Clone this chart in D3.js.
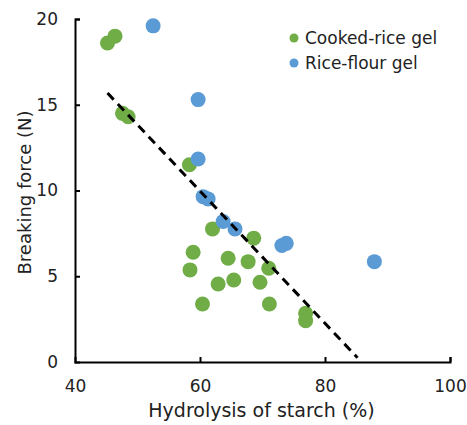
<!DOCTYPE html>
<html lang="en">
<head>
<meta charset="utf-8">
<title>Breaking force vs hydrolysis</title>
<style>
  body { margin: 0; background: #fff; }
  text { font-family: "DejaVu Sans", Verdana, sans-serif; fill: #222; }
  .axis path, .axis line { stroke: #000; stroke-width: 2; }
  .axis text { font-size: 17px; }
</style>
<script src="https://d3js.org/d3.v7.min.js"></script>
</head>
<body>
<svg width="467" height="425"></svg>
<script>
// data
var cookedX = [45.2, 46.4, 47.6, 48.5, 58.3, 58.9, 58.4, 60.4, 62.0, 62.9, 64.5, 65.4, 67.7, 68.6, 69.6, 71.0, 71.1, 76.9, 76.9];
var cookedY = [18.6, 19.0, 14.5, 14.3, 11.5, 6.4, 5.37, 3.38, 7.76, 4.55, 6.05, 4.78, 5.85, 7.22, 4.65, 5.47, 3.38, 2.84, 2.41];
var flourX = [52.5, 59.7, 59.7, 60.5, 61.3, 63.7, 65.6, 73.1, 73.8, 87.9];
var flourY = [19.6, 15.3, 11.84, 9.64, 9.51, 8.19, 7.76, 6.79, 6.92, 5.85];
var trendX = [45.2, 85.2];
var trendY = [15.68, 0.25];
var xTicks = [40, 60, 80, 100];
var yTicks = [0, 5, 10, 15, 20];
var seriesNames = ["Cooked-rice gel", "Rice-flour gel"];
var colors = ["#70ad47", "#5b9bd5"];

var svg = d3.select("svg");
var margin = { left: 75, top: 19 };
var w = 375, h = 343;

var x = d3.scaleLinear().domain([40, 100]).range([0, w]);
var y = d3.scaleLinear().domain([0, 20]).range([h, 0]);

var g = svg.append("g")
   .attr("transform", "translate(" + margin.left + "," + margin.top + ")");

// axes, ticks pointing inward
g.append("g")
   .attr("class", "axis")
   .attr("transform", "translate(0," + h + ")")
   .call(d3.axisTop(x).tickValues(xTicks).tickSize(5).tickSizeOuter(5).tickFormat(d3.format("d")))
   .call(function(a) {
      a.selectAll("text").attr("y", 18).attr("dy", "0.71em");
   });

g.append("g")
   .attr("class", "axis")
   .call(d3.axisRight(y).tickValues(yTicks).tickSize(5).tickSizeOuter(5))
   .call(function(a) {
      a.selectAll("text").attr("x", -17).attr("text-anchor", "end");
   });

// no tick marks at the corner
g.selectAll(".axis .tick").filter(function(d) { return d === 40 || d === 0; }).select("line").remove();

// points
var cooked = cookedX.map(function(v, i) { return [v, cookedY[i]]; });
var flour = flourX.map(function(v, i) { return [v, flourY[i]]; });

g.selectAll(".cooked")
   .data(cooked)
   .enter()
   .append("circle")
   .attr("class", "cooked")
   .attr("cx", function(d) { return x(d[0]); })
   .attr("cy", function(d) { return y(d[1]); })
   .attr("r", 7.5)
   .attr("fill", colors[0]);

g.selectAll(".flour")
   .data(flour)
   .enter()
   .append("circle")
   .attr("class", "flour")
   .attr("cx", function(d) { return x(d[0]); })
   .attr("cy", function(d) { return y(d[1]); })
   .attr("r", 7.5)
   .attr("fill", colors[1]);

// trend line
g.append("line")
   .attr("x1", x(trendX[0])).attr("y1", y(trendY[0]))
   .attr("x2", x(trendX[1])).attr("y2", y(trendY[1]))
   .attr("stroke", "#000")
   .attr("stroke-width", 3)
   .attr("stroke-dasharray", "9,6");

// axis titles
svg.append("text")
   .attr("x", margin.left + w / 2 - 1)
   .attr("y", 417)
   .attr("text-anchor", "middle")
   .attr("font-size", "19px")
   .text("Hydrolysis of starch (%)");

svg.append("text")
   .attr("transform", "translate(31,192.5) rotate(-90)")
   .attr("text-anchor", "middle")
   .attr("font-size", "18px")
   .text("Breaking force (N)");

// legend
var legend = svg.selectAll(".legend")
   .data(seriesNames)
   .enter()
   .append("g")
   .attr("class", "legend")
   .attr("transform", function(d, i) { return "translate(294," + (38 + i * 25) + ")"; });

legend.append("circle")
   .attr("r", 4.5)
   .attr("fill", function(d, i) { return colors[i]; });

legend.append("text")
   .attr("x", 11)
   .attr("dy", "0.35em")
   .attr("font-size", "17px")
   .text(function(d) { return d; });
</script>
</body>
</html>
